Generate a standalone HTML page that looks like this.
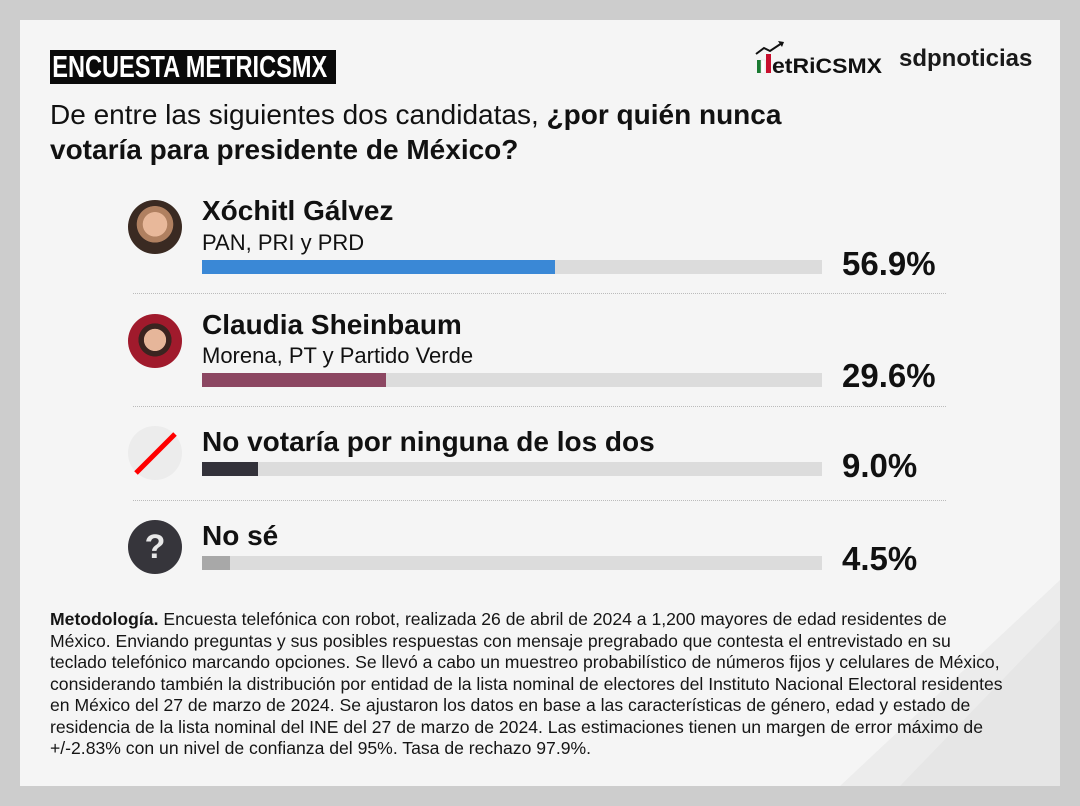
<!DOCTYPE html>
<html><head><meta charset="utf-8"><style>
*{margin:0;padding:0;box-sizing:border-box}
body{width:1080px;height:806px;background:#cdcdcd;position:relative;overflow:hidden;font-family:"Liberation Sans",Arial,sans-serif;color:#111}
.card{position:absolute;left:20px;top:20px;width:1040px;height:766px;background:#f5f5f5;overflow:hidden}
.a{position:absolute;white-space:nowrap}
.title{left:50px;top:50px;height:34px;width:286px;background:#0a0a0a;color:#fff;font-weight:bold;font-size:31px;line-height:34px;overflow:hidden}
.title span{display:inline-block;transform:scaleX(0.76);transform-origin:left;padding-left:3px}
.q{left:50px;top:97px;font-size:28px;line-height:35px}
.name{font-weight:bold;font-size:28px;left:202px}
.sub{font-size:22px;left:202px}
.bar{position:absolute;left:202px;width:620px;height:14px;background:#dcdcdc}
.bar div{height:14px}
.pct{left:842px;font-weight:bold;font-size:33px}
.dot{position:absolute;left:133px;width:813px;border-top:1.5px dotted #bbb;height:0}
.av{position:absolute;left:128px;width:54px;height:54px;border-radius:50%}
.meth{left:50px;top:609px;font-size:17.6px;line-height:21.5px;color:#151515}
</style></head><body>
<div class="card">
<svg style="position:absolute;left:0;top:0" width="1040" height="766"><polygon points="1040,560 1040,766 820,766" fill="#ececec"/><polygon points="1040,600 1040,766 880,766" fill="#e6e6e6"/></svg>
</div>
<div class="a title"><span>ENCUESTA METRICSMX</span></div>
<svg class="a" style="left:754px;top:40px" width="130" height="36">
<polyline points="2,14 10,8 16,11 28,3" stroke="#111" stroke-width="2" fill="none"/><polygon points="24,1 30,2 28,7" fill="#111"/>
<rect x="3" y="20" width="4" height="13" fill="#1a7a32"/><rect x="7" y="20" width="4" height="13" fill="#fff" stroke="#ddd" stroke-width=".5"/><rect x="12" y="14" width="5" height="19" fill="#c8102e"/>
<text x="18" y="33" font-family="Liberation Sans" font-weight="bold" font-size="21" fill="#111" textLength="110" lengthAdjust="spacingAndGlyphs">etRiCSMX</text>
</svg>
<div class="a" style="left:899px;top:45px;font-size:24px;font-weight:bold;color:#1a1a1a">sdpnoticias</div>
<div class="a q">De entre las siguientes dos candidatas, <b>¿por quién nunca</b><br><b>votaría para presidente de México?</b></div>

<div class="av" style="top:200px;background:radial-gradient(circle at 50% 45%,#e8b89a 0 30%,#b08060 31% 45%,#3a2a22 46%)"></div>
<div class="a name" style="top:195px">Xóchitl Gálvez</div>
<div class="a sub" style="top:230px">PAN, PRI y PRD</div>
<div class="bar" style="top:260px"><div style="width:353px;background:#3a88d6"></div></div>
<div class="a pct" style="top:245px">56.9%</div>
<div class="dot" style="top:293px"></div>

<div class="av" style="top:314px;background:radial-gradient(circle at 50% 48%,#e6b69a 0 28%,#3a2420 29% 42%,#a01a2c 43%)"></div>
<div class="a name" style="top:309px">Claudia Sheinbaum</div>
<div class="a sub" style="top:343px">Morena, PT y Partido Verde</div>
<div class="bar" style="top:373px"><div style="width:184px;background:#8c4762"></div></div>
<div class="a pct" style="top:357px">29.6%</div>
<div class="dot" style="top:406px"></div>

<div class="av" style="top:426px;background:#ececec"></div>
<svg class="a" style="left:128px;top:426px" width="54" height="54"><line x1="8" y1="47" x2="47" y2="8" stroke="#f00" stroke-width="5"/></svg>
<div class="a name" style="top:426px">No votaría por ninguna de los dos</div>
<div class="bar" style="top:462px"><div style="width:56px;background:#33323a"></div></div>
<div class="a pct" style="top:447px">9.0%</div>
<div class="dot" style="top:500px"></div>

<div class="av" style="top:520px;background:#36353b;color:#e8e8e8;font-weight:bold;font-size:34px;text-align:center;line-height:54px">?</div>
<div class="a name" style="top:520px">No sé</div>
<div class="bar" style="top:556px"><div style="width:28px;background:#a8a8a8"></div></div>
<div class="a pct" style="top:540px">4.5%</div>

<div class="a meth"><b>Metodología.</b> Encuesta telefónica con robot, realizada 26 de abril de 2024 a 1,200 mayores de edad residentes de<br>México. Enviando preguntas y sus posibles respuestas con mensaje pregrabado que contesta el entrevistado en su<br>teclado telefónico marcando opciones. Se llevó a cabo un muestreo probabilístico de números fijos y celulares de México,<br>considerando también la distribución por entidad de la lista nominal de electores del Instituto Nacional Electoral residentes<br>en México del 27 de marzo de 2024. Se ajustaron los datos en base a las características de género, edad y estado de<br>residencia de la lista nominal del INE del 27 de marzo de 2024. Las estimaciones tienen un margen de error máximo de<br>+/-2.83% con un nivel de confianza del 95%. Tasa de rechazo 97.9%.</div>
</body></html>
